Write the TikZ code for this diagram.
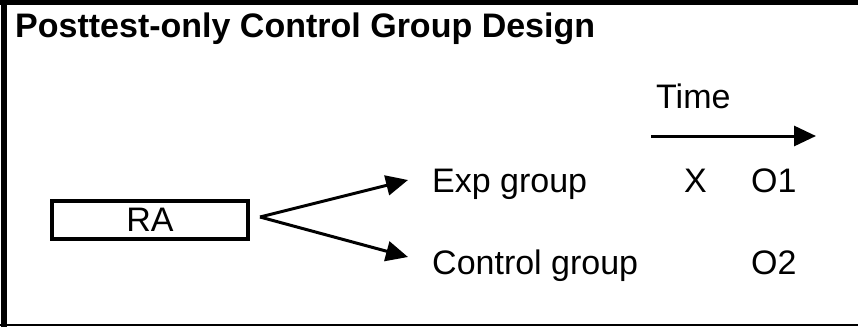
\documentclass[tikz,border=0pt]{standalone}
\usepackage{fontspec}
\setmainfont{Liberation Sans}
\usetikzlibrary{arrows.meta}
\begin{document}
\begin{tikzpicture}[x=1pt,y=-1pt,
  lbl/.style={anchor=base west, inner sep=0pt, font=\fontsize{34}{40}\selectfont},
  ttl/.style={lbl, font=\bfseries\fontsize{34}{40}\selectfont},
  conn/.style={line width=3pt, -{Triangle[length=22pt,width=20pt]}},
  box/.style={draw, line width=4pt, minimum width=196pt, minimum height=38pt,
              inner sep=0pt, font=\fontsize{34}{40}\selectfont}]
\useasboundingbox (0,0) rectangle (858,327);
% frame: heavy top and left edges, thin bottom edge
\fill (0,0) rectangle (858,5);
\fill (1,0) rectangle (7,327);
\fill (0,324) rectangle (858,326);
% heading
\node[ttl] (title) at (15,37) {Posttest-only Control Group Design};
% time axis
\node[lbl] (time) at (656,108) {Time};
\coordinate (t0) at (651,136);
\coordinate (t1) at (816,136);
\draw[conn] (t0) -- (t1);
% random assignment and the two groups
\node[box] (ra) at (150,220) {RA};
\coordinate (fork) at (260,217);
\coordinate (expTip) at (408,180);
\coordinate (ctlTip) at (408,257);
\draw[conn] (fork) -- (expTip);
\draw[conn] (fork) -- (ctlTip);
\node[lbl] (exp) at (432,192) {Exp group};
\node[lbl] (ctl) at (432,274) {Control group};
% treatment and observations
\node[lbl] (x) at (684,192) {X};
\node[lbl] (o1) at (751,192) {O1};
\node[lbl] (o2) at (751,274) {O2};
\end{tikzpicture}
\end{document}
